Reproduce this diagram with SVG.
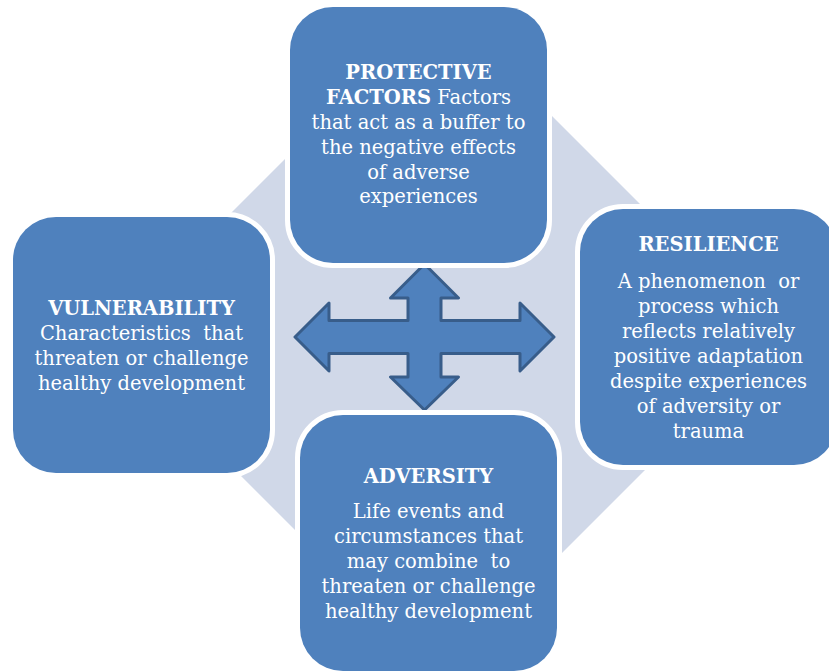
<svg xmlns="http://www.w3.org/2000/svg" width="829" height="671" viewBox="0 0 829 671">
  <style>
    .box { fill: #4F81BD; stroke: #FFFFFF; stroke-width: 10; paint-order: stroke; }
    .label { font-family: "DejaVu Serif", "Liberation Serif", serif; font-size: 19.5px; fill: #FFFFFF; text-anchor: middle; }
    .head { font-weight: bold; }
    .cross { fill: #4F81BD; stroke: #385D8A; stroke-width: 3; stroke-linejoin: round; }
  </style>

  <rect width="829" height="671" fill="#FFFFFF"/>

  <!-- background diamond -->
  <polygon points="440,4 775.5,339.5 440,675 104.5,339.5" fill="#D0D8E8"/>

  <g id="connectors">
    <!-- four-way arrow in the centre -->
    <polygon class="cross" points="424.5,264 458.5,298 441,298 441,320.5 520,320.5 520,303 554,337 520,371 520,353.5 441,353.5 441,377 458.5,377 424.5,410 390.5,377 408,377 408,353.5 329,353.5 329,371 295,337 329,303 329,320.5 408,320.5 408,298 390.5,298"/>
  </g>

  <g id="protective-factors">
    <rect class="box" x="290" y="7" width="257" height="256" rx="43" ry="43"/>
    <text class="label" x="418.5" y="79"><tspan class="head">PROTECTIVE</tspan></text>
    <text class="label" x="418.5" y="104"><tspan class="head">FACTORS</tspan> Factors</text>
    <text class="label" x="418.5" y="129">that act as a buffer to</text>
    <text class="label" x="418.5" y="154">the negative effects</text>
    <text class="label" x="418.5" y="179">of adverse</text>
    <text class="label" x="418.5" y="203">experiences</text>
  </g>

  <g id="vulnerability">
    <rect class="box" x="13" y="217" width="257" height="256" rx="43" ry="43"/>
    <text class="label head" x="141.5" y="315">VULNERABILITY</text>
    <text class="label" x="141.5" y="340" xml:space="preserve">Characteristics  that</text>
    <text class="label" x="141.5" y="365">threaten or challenge</text>
    <text class="label" x="141.5" y="390">healthy development</text>
  </g>

  <g id="resilience">
    <rect class="box" x="580" y="209" width="257" height="256" rx="43" ry="43"/>
    <text class="label head" x="708.5" y="251">RESILIENCE</text>
    <text class="label" x="708.5" y="288" xml:space="preserve">A phenomenon  or</text>
    <text class="label" x="708.5" y="313">process which</text>
    <text class="label" x="708.5" y="338">reflects relatively</text>
    <text class="label" x="708.5" y="363">positive adaptation</text>
    <text class="label" x="708.5" y="388">despite experiences</text>
    <text class="label" x="708.5" y="413">of adversity or</text>
    <text class="label" x="708.5" y="438">trauma</text>
  </g>

  <g id="adversity">
    <rect class="box" x="300" y="415" width="257" height="256" rx="43" ry="43"/>
    <text class="label head" x="428.5" y="483">ADVERSITY</text>
    <text class="label" x="428.5" y="518">Life events and</text>
    <text class="label" x="428.5" y="543">circumstances that</text>
    <text class="label" x="428.5" y="568" xml:space="preserve">may combine  to</text>
    <text class="label" x="428.5" y="593">threaten or challenge</text>
    <text class="label" x="428.5" y="618">healthy development</text>
  </g>
</svg>
